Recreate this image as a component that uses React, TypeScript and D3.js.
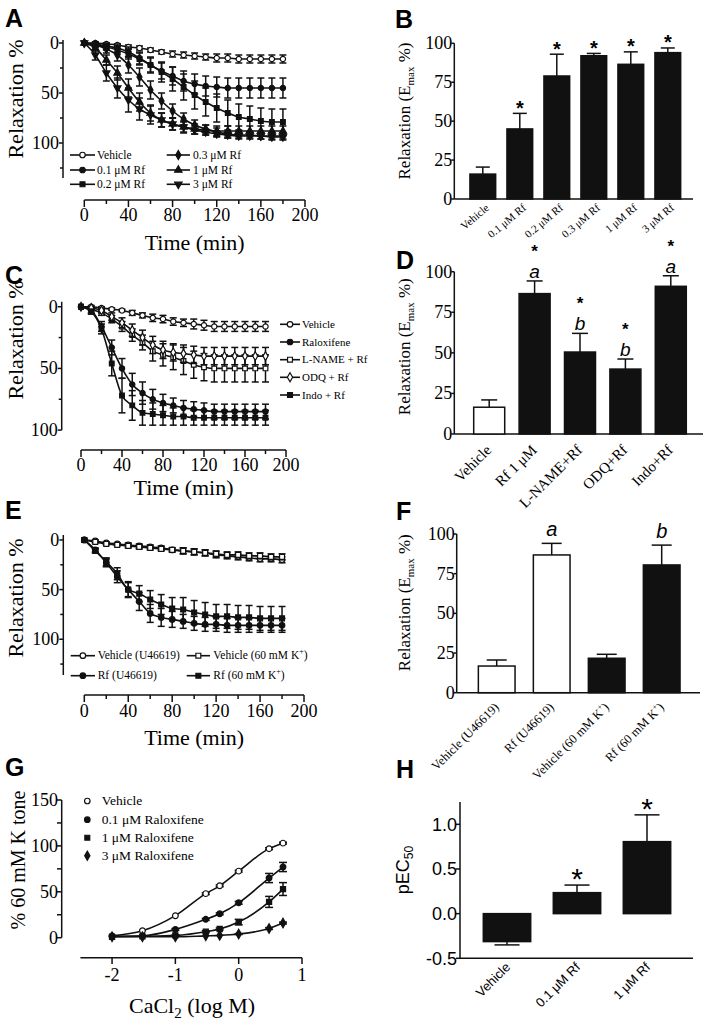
import React from 'react';
import * as d3 from 'd3';

const SERIF = "'Liberation Serif', 'Times New Roman', serif";
const SANS = "'Liberation Sans', Arial, sans-serif";
const INK = '#111';

// ---------------- Data ----------------
const timePoints = [0, 10, 20, 30, 40, 50, 60, 70, 80, 90, 100, 110, 120, 130, 140, 150, 160, 170, 180];
const timeTicks = [0, 40, 80, 120, 160, 200];
const timeMinorTicks = [20, 60, 100, 140, 180];
const relaxTicks = [0, 50, 100];
const relaxMinorTicks = [25, 75, 125];

// Panel A
const aLabels = ['Vehicle', '0.1 μM Rf', '0.2 μM Rf', '0.3 μM Rf', '1 μM Rf', '3 μM Rf'];
const aVehicle = [0, 0, 1, 2, 4, 5, 7, 9, 11, 12, 13, 14, 15, 15, 16, 16, 16, 16, 16];
const aVehicleErr = [0, 1, 1, 1, 2, 2, 2, 2, 3, 3, 3, 3, 4, 4, 4, 4, 4, 4, 4];
const aRf01 = [0, 1, 3, 5, 9, 15, 22, 28, 33, 38, 41, 43, 44, 45, 45, 45, 45, 45, 45];
const aRf01Err = [0, 2, 3, 4, 5, 6, 7, 8, 9, 10, 10, 10, 10, 10, 10, 10, 10, 10, 10];
const aRf02 = [0, 2, 4, 7, 11, 16, 22, 29, 36, 44, 52, 59, 65, 70, 74, 76, 78, 79, 79];
const aRf02Err = [0, 2, 3, 4, 5, 6, 8, 10, 12, 13, 14, 14, 14, 13, 13, 13, 13, 13, 13];
const aRf03 = [0, 2, 6, 12, 22, 34, 47, 58, 68, 76, 82, 86, 89, 91, 92, 92, 93, 93, 93];
const aRf03Err = [0, 2, 4, 6, 8, 9, 9, 8, 7, 6, 5, 4, 4, 4, 3, 3, 3, 3, 3];
const aRf1 = [0, 5, 17, 30, 45, 59, 70, 77, 81, 84, 86, 87, 88, 88, 88, 88, 88, 88, 88];
const aRf1Err = [0, 3, 5, 7, 9, 9, 8, 7, 6, 6, 5, 5, 5, 5, 5, 5, 5, 5, 5];
const aRf3 = [0, 12, 30, 45, 57, 66, 72, 77, 81, 84, 87, 89, 91, 92, 93, 93, 93, 94, 94];
const aRf3Err = [0, 5, 8, 10, 12, 11, 9, 7, 6, 5, 4, 3, 3, 3, 3, 3, 3, 3, 3];

// Panel B
const bCats = ['Vehicle', '0.1 μM Rf', '0.2 μM Rf', '0.3 μM Rf', '1 μM Rf', '3 μM Rf'];
const bValues = [16, 45, 79, 92, 86.5, 94];
const bErrs = [4.5, 10, 14, 1.5, 8, 3];
const bStars = [false, true, true, true, true, true];
const barTicks = [0, 25, 50, 75, 100];

// Panel C
const cLabels = ['Vehicle', 'Raloxifene', 'L-NAME + Rf', 'ODQ + Rf', 'Indo + Rf'];
const cVehicle = [0, 0, 1, 2, 3, 5, 7, 9, 10, 12, 13, 14, 15, 16, 16, 16, 16, 16, 16];
const cVehicleErr = [0, 1, 1, 1, 1, 2, 2, 3, 3, 3, 3, 4, 4, 4, 4, 4, 4, 4, 4];
const cRalox = [0, 3, 16, 33, 50, 63, 70, 75, 78, 80, 82, 83, 84, 85, 85, 85, 85, 85, 85];
const cRaloxErr = [0, 2, 4, 6, 8, 9, 9, 8, 7, 6, 6, 6, 6, 6, 6, 6, 6, 6, 6];
const cLname = [0, 2, 5, 10, 16, 23, 29, 36, 39, 41, 44, 47, 49, 50, 50, 50, 50, 50, 50];
const cLnameErr = [0, 1, 2, 3, 4, 5, 6, 8, 9, 10, 11, 11, 11, 11, 11, 11, 11, 11, 11];
const cOdq = [0, 1, 3, 8, 13, 19, 25, 31, 35, 37, 38, 39, 40, 40, 40, 40, 40, 40, 40];
const cOdqErr = [0, 1, 2, 3, 4, 5, 6, 7, 7, 7, 7, 7, 7, 7, 7, 7, 7, 7, 7];
const cIndo = [0, 4, 18, 46, 72, 80, 86, 87, 88, 89, 89, 90, 90, 90, 90, 90, 90, 90, 90];
const cIndoErr = [0, 2, 4, 10, 14, 12, 10, 9, 8, 7, 7, 6, 6, 6, 6, 6, 6, 6, 6];

// Panel D
const dCats = ['Vehicle', 'Rf 1 μM', 'L-NAME+Rf', 'ODQ+Rf', 'Indo+Rf'];
const dValues = [16.5, 86.5, 50.5, 40, 91];
const dErrs = [4.5, 7.8, 11.5, 6.2, 6.5];
const dFilled = [false, true, true, true, true];
const dLetters = ['', 'a', 'b', 'b', 'a'];
const dStars = [false, true, true, true, true];

// Panel E
const eVehU = [0, 1, 3, 4, 5, 6, 7, 8, 10, 11, 12, 13, 15, 16, 17, 18, 19, 19, 20];
const eVehUErr = [0, 1, 1, 1, 2, 2, 2, 2, 2, 3, 3, 3, 3, 3, 3, 3, 3, 3, 3];
const eVehK = [0, 2, 4, 5, 6, 7, 8, 9, 10, 11, 12, 13, 14, 15, 15, 16, 16, 17, 17];
const eVehKErr = [0, 1, 1, 1, 2, 2, 2, 2, 2, 3, 3, 3, 3, 3, 3, 3, 3, 3, 3];
const eRfU = [0, 10, 23, 37, 50, 62, 74, 78, 80, 82, 84, 85, 85, 86, 86, 86, 86, 86, 86];
const eRfUErr = [0, 2, 4, 6, 8, 9, 9, 9, 8, 7, 7, 7, 7, 7, 7, 7, 7, 7, 7];
const eRfK = [0, 11, 22, 34, 50, 54, 60, 65, 69, 70, 73, 75, 77, 77, 78, 78, 79, 79, 79];
const eRfKErr = [0, 2, 4, 6, 7, 8, 9, 10, 11, 12, 12, 12, 12, 12, 12, 12, 12, 12, 12];

// Panel F
const fCats = ['Vehicle (U46619)', 'Rf (U46619)', 'Vehicle (60 mM K', 'Rf (60 mM K'];
const fValues = [16.8, 86.8, 21.7, 80.5];
const fErrs = [3.8, 7.3, 2.5, 12.5];
const fFilled = [false, false, true, true];
const fLetters = ['', 'a', '', 'b'];

// Panel G
const gX = [-2, -1.52, -1, -0.52, -0.3, 0, 0.48, 0.7];
const gVehicle = [2, 7.5, 24, 48, 56.5, 72.5, 97, 103];
const gVehicleErr = [0, 0, 0, 1, 1, 1, 1, 1];
const gRf01 = [1.5, 2, 9, 20, 26, 38, 65, 77];
const gRf01Err = [0, 0, 1, 1, 1, 1.5, 5, 5];
const gRf1 = [1, 1.5, 2.5, 6.5, 9.5, 17, 39, 53];
const gRf1Err = [0, 0, 0.5, 1, 1, 3, 6, 7];
const gRf3 = [1, 1, 1, 2, 2.5, 4, 10, 16];
const gRf3Err = [0, 0, 0, 0, 0, 0.5, 1, 1];
const gLabels = ['Vehicle', '0.1 μM Raloxifene', '1 μM Raloxifene', '3 μM Raloxifene'];
const gXTicks = [-2, -1, 0, 1];
const gYTicks = [0, 50, 100, 150];
const gYMinor = [25, 75, 125];

// Panel H
const hCats = ['Vehicle', '0.1 μM Rf', '1 μM Rf'];
const hValues = [-0.313, 0.235, 0.806];
const hErrs = [0.037, 0.085, 0.3];
const hStars = [false, true, true];
const hTicks = [-0.5, 0, 0.5, 1.0];
const hTickLabels = ['-0.5', '0.0', '0.5', '1.0'];

// ---------------- Helpers ----------------
type Kind = 'circle' | 'square' | 'diamond' | 'triangle' | 'triangleDown';

function Marker({ x, y, kind, filled, size = 30 }: { x: number; y: number; kind: Kind; filled: boolean; size?: number }) {
  const t = kind === 'circle' ? d3.symbolCircle : kind === 'square' ? d3.symbolSquare : kind === 'diamond' ? d3.symbolDiamond : d3.symbolTriangle;
  const d = d3.symbol().type(t).size(size)() as string;
  return (
    <path d={d} transform={`translate(${x},${y})${kind === 'triangleDown' ? ' rotate(180)' : ''}`}
      fill={filled ? INK : '#fff'} stroke={INK} strokeWidth={1.2} />
  );
}

function Series({ xs, ys, errs, xScale, yScale, kind, filled, cap = 3.5, size = 30, curve = d3.curveMonotoneX, drawLine = true, drawMarkers = true }: any) {
  const line = d3.line<number>().x((_d, i) => xScale(xs[i])).y((d) => yScale(d)).curve(curve);
  return (
    <g>
      {errs && ys.map((v: number, i: number) => {
        if (!errs[i]) return null;
        const x = xScale(xs[i]);
        const y1 = yScale(v - errs[i]);
        const y2 = yScale(v + errs[i]);
        return (
          <g key={'e' + i} stroke={INK} strokeWidth={1.5}>
            <line x1={x} x2={x} y1={y1} y2={y2} />
            <line x1={x - cap} x2={x + cap} y1={y1} y2={y1} />
            <line x1={x - cap} x2={x + cap} y1={y2} y2={y2} />
          </g>
        );
      })}
      {drawLine && <path d={line(ys) as string} fill="none" stroke={INK} strokeWidth={1.6} />}
      {drawMarkers && ys.map((v: number, i: number) => (
        <Marker key={'m' + i} x={xScale(xs[i])} y={yScale(v)} kind={kind} filled={filled} size={size} />
      ))}
    </g>
  );
}

function TimeXAxis({ scale, y, labelY, titleY }: any) {
  const x0 = scale(0), x1 = scale(200);
  return (
    <g>
      <line x1={x0} x2={x1} y1={y} y2={y} stroke={INK} strokeWidth={1.5} />
      {timeTicks.map((t) => <line key={'M' + t} x1={scale(t)} x2={scale(t)} y1={y} y2={y + 7} stroke={INK} strokeWidth={1.5} />)}
      {timeMinorTicks.map((t) => <line key={'m' + t} x1={scale(t)} x2={scale(t)} y1={y} y2={y + 4} stroke={INK} strokeWidth={1.5} />)}
      {timeTicks.map((t) => (
        <text key={'l' + t} x={scale(t)} y={labelY} textAnchor="middle" fontFamily={SERIF} fontSize={18}>{t}</text>
      ))}
      <text x={scale(100)} y={titleY} textAnchor="middle" fontFamily={SERIF} fontSize={22}>Time (min)</text>
    </g>
  );
}

function RelaxYAxis({ scale, x, top, bottom, titleX, titleY }: any) {
  return (
    <g>
      <line x1={x} x2={x} y1={top} y2={bottom} stroke={INK} strokeWidth={1.5} />
      {relaxTicks.map((t) => <line key={'M' + t} x1={x - 4} x2={x} y1={scale(t)} y2={scale(t)} stroke={INK} strokeWidth={1.5} />)}
      {relaxMinorTicks.filter((t) => scale(t) <= bottom).map((t) => <line key={'m' + t} x1={x - 3} x2={x} y1={scale(t)} y2={scale(t)} stroke={INK} strokeWidth={1.5} />)}
      {relaxTicks.map((t) => (
        <text key={'l' + t} x={x - 4} y={scale(t) + 6} textAnchor="end" fontFamily={SERIF} fontSize={18}>{t}</text>
      ))}
      <text transform={`translate(${titleX},${titleY}) rotate(-90)`} textAnchor="middle" fontFamily={SERIF} fontSize={22}>Relaxation %</text>
    </g>
  );
}

function LegendItem({ x1, x2, y, kind, filled, label, textX, fontSize = 11.5, line = true, children }: any) {
  return (
    <g>
      {line && <line x1={x1} x2={x2} y1={y} y2={y} stroke={INK} strokeWidth={1.6} />}
      <Marker x={(x1 + x2) / 2} y={y} kind={kind} filled={filled} size={24} />
      <text x={textX} y={y + fontSize * 0.33} fontFamily={SERIF} fontSize={fontSize}>{children ?? label}</text>
    </g>
  );
}

function EmaxTitle({ x, y }: any) {
  return (
    <text transform={`translate(${x},${y}) rotate(-90)`} textAnchor="middle" fontFamily={SERIF} fontSize={17}>
      Relaxation (E<tspan fontSize={11} dy={4}>max</tspan><tspan dy={-4}> %)</tspan>
    </text>
  );
}

function BarYAxis({ scale, x, xEnd, ticks }: any) {
  const y0 = scale(0);
  return (
    <g>
      <line x1={x} x2={x} y1={scale(ticks[ticks.length - 1])} y2={y0} stroke={INK} strokeWidth={1.5} />
      <line x1={x} x2={xEnd} y1={y0} y2={y0} stroke={INK} strokeWidth={1.5} />
      {ticks.map((t: number) => <line key={'t' + t} x1={x - 3} x2={x} y1={scale(t)} y2={scale(t)} stroke={INK} strokeWidth={1.5} />)}
      {ticks.map((t: number) => (
        <text key={'l' + t} x={x - 2} y={scale(t) + 6} textAnchor="end" fontFamily={SERIF} fontSize={18}>{t}</text>
      ))}
    </g>
  );
}

function Bars({ cats, values, errs, xScale, yScale, filled, cap }: any) {
  const bw = xScale.bandwidth();
  return (
    <g>
      {cats.map((c: string, i: number) => {
        const x = xScale(c);
        const cx = x + bw / 2;
        const v = values[i];
        const top = yScale(Math.max(0, v));
        const bot = yScale(Math.min(0, v));
        const ev = v >= 0 ? v + errs[i] : v - errs[i];
        const ey = yScale(ev);
        const from = yScale(v);
        return (
          <g key={c}>
            <line x1={cx} x2={cx} y1={from} y2={ey} stroke={INK} strokeWidth={1.5} />
            <line x1={cx - cap} x2={cx + cap} y1={ey} y2={ey} stroke={INK} strokeWidth={1.5} />
            <rect x={x} y={top} width={bw} height={bot - top} fill={filled[i] ? INK : '#fff'} stroke={INK} strokeWidth={1.5} />
          </g>
        );
      })}
    </g>
  );
}

function PanelLetter({ x, y, children }: any) {
  return <text x={x} y={y} fontFamily={SANS} fontWeight="bold" fontSize={25}>{children}</text>;
}

// ---------------- App ----------------
export default function App() {
  const xA = d3.scaleLinear().domain([0, 200]).range([84.3, 305]);
  const yA = d3.scaleLinear().domain([-3, 135]).range([40, 178]);
  const xC = d3.scaleLinear().domain([0, 200]).range([81, 286]);
  const yC = d3.scaleLinear().domain([-4, 100]).range([301.8, 430.1]);
  const xE = d3.scaleLinear().domain([0, 200]).range([84.3, 304]);
  const yE = d3.scaleLinear().domain([-5, 136]).range([535, 675]);
  const xG = d3.scaleLinear().domain([-2.5, 1]).range([80.4, 302]);
  const yG = d3.scaleLinear().domain([0, 150]).range([937.7, 800]);

  const xB = d3.scaleBand<string>().domain(bCats).range([464.3, 686.3]).paddingInner(0.305).paddingOuter(0.1525);
  const yB = d3.scaleLinear().domain([0, 100]).range([199, 43.3]);
  const xD = d3.scaleBand<string>().domain(dCats).range([466.5, 693.5]).paddingInner(0.317).paddingOuter(0.1585);
  const yD = d3.scaleLinear().domain([0, 100]).range([434, 271.7]);
  const xF = d3.scaleBand<string>().domain(fCats).range([469.2, 689.2]).paddingInner(0.333).paddingOuter(0.1665);
  const yF = d3.scaleLinear().domain([0, 100]).range([692.7, 534]);
  const xH = d3.scaleBand<string>().domain(hCats).range([472, 682]).paddingInner(0.323).paddingOuter(0.1615);
  const yH = d3.scaleLinear().domain([-0.5, 1.25]).range([958.3, 802]);

  const aSeries = [
    { ys: aVehicle, errs: aVehicleErr, kind: 'circle', filled: false },
    { ys: aRf01, errs: aRf01Err, kind: 'circle', filled: true },
    { ys: aRf02, errs: aRf02Err, kind: 'square', filled: true },
    { ys: aRf03, errs: aRf03Err, kind: 'diamond', filled: true },
    { ys: aRf1, errs: aRf1Err, kind: 'triangle', filled: true },
    { ys: aRf3, errs: aRf3Err, kind: 'triangleDown', filled: true },
  ];
  const cSeries = [
    { ys: cVehicle, errs: cVehicleErr, kind: 'circle', filled: false },
    { ys: cRalox, errs: cRaloxErr, kind: 'circle', filled: true },
    { ys: cLname, errs: cLnameErr, kind: 'square', filled: false },
    { ys: cOdq, errs: cOdqErr, kind: 'diamond', filled: false },
    { ys: cIndo, errs: cIndoErr, kind: 'square', filled: true },
  ];
  const eSeries = [
    { ys: eVehU, errs: eVehUErr, kind: 'circle', filled: false },
    { ys: eVehK, errs: eVehKErr, kind: 'square', filled: false },
    { ys: eRfU, errs: eRfUErr, kind: 'circle', filled: true },
    { ys: eRfK, errs: eRfKErr, kind: 'square', filled: true },
  ];
  const gSeries = [
    { ys: gVehicle, errs: gVehicleErr, kind: 'circle', filled: false },
    { ys: gRf01, errs: gRf01Err, kind: 'circle', filled: true },
    { ys: gRf1, errs: gRf1Err, kind: 'square', filled: true },
    { ys: gRf3, errs: gRf3Err, kind: 'diamond', filled: true },
  ];

  const aLegendRows = [155, 170, 184.3];
  const cLegendRows = [324.3, 342, 359.7, 377.3, 395];
  const gLegendRows = [801, 819.7, 837.7, 855.7];

  return (
    <svg width={709} height={1023} style={{ position: 'absolute', left: 0, top: 0, background: '#fff' }}>
      <rect width={709} height={1023} fill="#fff" />

      {/* ---------- A ---------- */}
      <PanelLetter x={5} y={27}>A</PanelLetter>
      <RelaxYAxis scale={yA} x={63} top={40} bottom={178} titleX={23} titleY={99} />
      <TimeXAxis scale={xA} y={200} labelY={221} titleY={250} />
      {aSeries.map((s, i) => (
        <Series key={i} xs={timePoints} ys={s.ys} errs={s.errs} xScale={xA} yScale={yA} kind={s.kind} filled={s.filled} cap={3.5} size={22} />
      ))}
      {aSeries.map((s, i) => {
        const col = Math.floor(i / 3), row = i % 3;
        const x1 = col === 0 ? 70 : 166.7, x2 = col === 0 ? 95 : 190, tx = col === 0 ? 97 : 193;
        return <LegendItem key={i} x1={x1} x2={x2} y={aLegendRows[row]} kind={s.kind} filled={s.filled} label={aLabels[i]} textX={tx} fontSize={11.5} />;
      })}

      {/* ---------- B ---------- */}
      <PanelLetter x={395} y={28}>B</PanelLetter>
      <BarYAxis scale={yB} x={454.3} xEnd={693} ticks={barTicks} />
      <Bars cats={bCats} values={bValues} errs={bErrs} xScale={xB} yScale={yB} filled={bCats.map(() => true)} cap={7} />
      {bCats.map((c, i) => bStars[i] ? (
        <text key={c} x={(xB(c) as number) + xB.bandwidth() / 2} y={yB(bValues[i] + bErrs[i]) + 1.5} textAnchor="middle" fontFamily={SANS} fontWeight="bold" fontSize={20}>*</text>
      ) : null)}
      {bCats.map((c) => {
        const cx = (xB(c) as number) + xB.bandwidth() / 2;
        return <text key={'lb' + c} transform={`translate(${cx + 7},${209}) rotate(-40)`} textAnchor="end" fontFamily={SERIF} fontSize={11}>{c}</text>;
      })}
      <EmaxTitle x={410} y={111} />

      {/* ---------- C ---------- */}
      <PanelLetter x={5} y={284}>C</PanelLetter>
      <RelaxYAxis scale={yC} x={61.7} top={301.8} bottom={430.1} titleX={23} titleY={340} />
      <TimeXAxis scale={xC} y={450} labelY={471} titleY={495} />
      {cSeries.map((s, i) => (
        <Series key={i} xs={timePoints} ys={s.ys} errs={s.errs} xScale={xC} yScale={yC} kind={s.kind} filled={s.filled} cap={3.5} size={22} />
      ))}
      {cSeries.map((s, i) => (
        <LegendItem key={i} x1={280} x2={300} y={cLegendRows[i]} kind={s.kind} filled={s.filled} label={cLabels[i]} textX={302} fontSize={11} />
      ))}

      {/* ---------- D ---------- */}
      <PanelLetter x={396} y={269}>D</PanelLetter>
      <BarYAxis scale={yD} x={454.3} xEnd={703} ticks={barTicks} />
      <Bars cats={dCats} values={dValues} errs={dErrs} xScale={xD} yScale={yD} filled={dFilled} cap={8} />
      {dCats.map((c, i) => {
        const cx = (xD(c) as number) + xD.bandwidth() / 2;
        const base = yD(dValues[i] + dErrs[i]) - 3;
        return (
          <g key={'dl' + c}>
            {dLetters[i] && <text x={cx} y={base} textAnchor="middle" fontFamily={SANS} fontStyle="italic" fontSize={19}>{dLetters[i]}</text>}
            {dStars[i] && <text x={cx} y={base - 21} textAnchor="middle" fontFamily={SANS} fontWeight="bold" fontSize={17}>*</text>}
            <text transform={`translate(${cx + 3},${451}) rotate(-45)`} textAnchor="end" fontFamily={SERIF} fontSize={15}>{c}</text>
          </g>
        );
      })}
      <EmaxTitle x={410} y={346.7} />

      {/* ---------- E ---------- */}
      <PanelLetter x={5} y={519}>E</PanelLetter>
      <RelaxYAxis scale={yE} x={63.3} top={535} bottom={675} titleX={23} titleY={598} />
      <TimeXAxis scale={xE} y={695} labelY={717} titleY={745} />
      {eSeries.map((s, i) => (
        <Series key={i} xs={timePoints} ys={s.ys} errs={s.errs} xScale={xE} yScale={yE} kind={s.kind} filled={s.filled} cap={3.5} size={24} />
      ))}
      <LegendItem x1={70.7} x2={95} y={655.7} kind="circle" filled={false} textX={97.7} fontSize={11.5} label="Vehicle (U46619)" />
      <LegendItem x1={186.7} x2={210} y={655.7} kind="square" filled={false} textX={213.3} fontSize={11.5}>
        Vehicle (60 mM K<tspan dy={-5} fontSize={8}>+</tspan><tspan dy={5}>)</tspan>
      </LegendItem>
      <LegendItem x1={70.7} x2={95} y={675.7} kind="circle" filled={true} textX={97.7} fontSize={11.5} label="Rf (U46619)" />
      <LegendItem x1={186.7} x2={210} y={675.7} kind="square" filled={true} textX={213.3} fontSize={11.5}>
        Rf (60 mM K<tspan dy={-5} fontSize={8}>+</tspan><tspan dy={5}>)</tspan>
      </LegendItem>

      {/* ---------- F ---------- */}
      <PanelLetter x={396} y={520}>F</PanelLetter>
      <BarYAxis scale={yF} x={456.7} xEnd={700} ticks={barTicks} />
      <Bars cats={fCats} values={fValues} errs={fErrs} xScale={xF} yScale={yF} filled={fFilled} cap={10} />
      {fCats.map((c, i) => {
        const cx = (xF(c) as number) + xF.bandwidth() / 2;
        const base = yF(fValues[i] + fErrs[i]) - 7;
        const isK = c.includes('mM K');
        return (
          <g key={'fl' + c}>
            {fLetters[i] && <text x={cx} y={base} textAnchor="middle" fontFamily={SANS} fontStyle="italic" fontSize={20}>{fLetters[i]}</text>}
            <text transform={`translate(${cx + 3},${708}) rotate(-45)`} textAnchor="end" fontFamily={SERIF} fontSize={12.5}>
              {c}{isK && <tspan dy={-5} fontSize={8}>+</tspan>}{isK && <tspan dy={5}>)</tspan>}
            </text>
          </g>
        );
      })}
      <EmaxTitle x={410} y={602.7} />

      {/* ---------- G ---------- */}
      <PanelLetter x={5} y={776}>G</PanelLetter>
      <line x1={61.7} x2={61.7} y1={yG(150)} y2={yG(0)} stroke={INK} strokeWidth={1.5} />
      {gYTicks.concat(gYMinor).map((t) => <line key={'gt' + t} x1={57} x2={61.7} y1={yG(t)} y2={yG(t)} stroke={INK} strokeWidth={1.5} />)}
      {gYTicks.map((t) => <text key={'gl' + t} x={58} y={yG(t) + 6} textAnchor="end" fontFamily={SERIF} fontSize={18}>{t}</text>)}
      <line x1={xG(-2.5)} x2={xG(1)} y1={957.7} y2={957.7} stroke={INK} strokeWidth={1.5} />
      {gXTicks.map((t) => <line key={'gxt' + t} x1={xG(t)} x2={xG(t)} y1={957.7} y2={964} stroke={INK} strokeWidth={1.5} />)}
      {gXTicks.map((t) => <text key={'gxl' + t} x={xG(t)} y={981} textAnchor="middle" fontFamily={SERIF} fontSize={18}>{t}</text>)}
      <text x={192} y={1013} textAnchor="middle" fontFamily={SERIF} fontSize={22}>
        CaCl<tspan dy={5} fontSize={15}>2</tspan><tspan dy={-5}> (log M)</tspan>
      </text>
      <text transform="translate(25,860) rotate(-90)" textAnchor="middle" fontFamily={SERIF} fontSize={20}>% 60 mM K tone</text>
      {gSeries.map((s, i) => (
        <Series key={i} xs={gX} ys={s.ys} errs={s.errs} xScale={xG} yScale={yG} kind={s.kind} filled={s.filled} cap={4} size={26} curve={d3.curveMonotoneX} />
      ))}
      {gSeries.map((s, i) => (
        <LegendItem key={i} x1={87.3} x2={87.3} y={gLegendRows[i]} kind={s.kind} filled={s.filled} label={gLabels[i]} textX={101.7} fontSize={13.5} line={false} />
      ))}

      {/* ---------- H ---------- */}
      <PanelLetter x={396} y={778}>H</PanelLetter>
      <line x1={460} x2={460} y1={yH(1.25)} y2={yH(-0.5)} stroke={INK} strokeWidth={1.5} />
      <line x1={460} x2={693} y1={yH(-0.5)} y2={yH(-0.5)} stroke={INK} strokeWidth={1.5} />
      {hTicks.map((t) => <line key={'ht' + t} x1={456} x2={460} y1={yH(t)} y2={yH(t)} stroke={INK} strokeWidth={1.5} />)}
      {hTicks.map((t, i) => <text key={'hl' + t} x={457} y={yH(t) + 6.5} textAnchor="end" fontFamily={SANS} fontSize={18}>{hTickLabels[i]}</text>)}
      <Bars cats={hCats} values={hValues} errs={hErrs} xScale={xH} yScale={yH} filled={hCats.map(() => true)} cap={12.5} />
      {hCats.map((c, i) => {
        const cx = (xH(c) as number) + xH.bandwidth() / 2;
        return (
          <g key={'hc' + c}>
            {hStars[i] && <text x={cx} y={yH(hValues[i] + hErrs[i]) - 11 + 15} textAnchor="middle" fontFamily={SANS} fontSize={30}>*</text>}
            <text transform={`translate(${cx + 4},${968}) rotate(-45)`} textAnchor="end" fontFamily={SANS} fontSize={13}>{c}</text>
          </g>
        );
      })}
      <text transform="translate(409,870) rotate(-90)" textAnchor="middle" fontFamily={SANS} fontSize={18}>
        pEC<tspan dy={4} fontSize={12}>50</tspan>
      </text>
    </svg>
  );
}
